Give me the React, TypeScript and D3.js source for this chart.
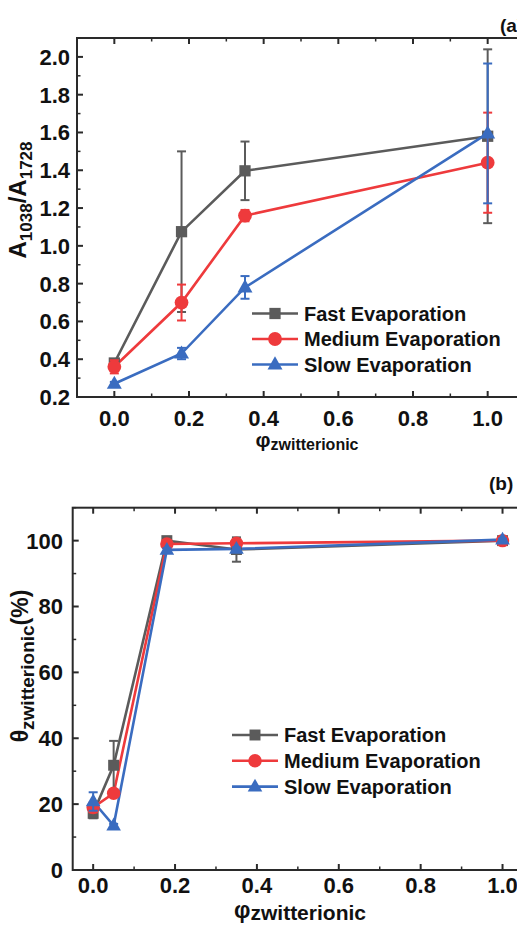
import React from "react";
import * as d3 from "d3";

const seriesNames = ["Fast Evaporation", "Medium Evaporation", "Slow Evaporation"];
const colors = ["#5b5b5b", "#ee3a3c", "#3a6cc0"];
const shapes = ["square", "circle", "triangle"];

// Panel (a)
const xA = [0, 0.18, 0.35, 1.0];
const fastA = [0.38, 1.075, 1.397, 1.58];
const fastAErr = [0.02, 0.425, 0.155, 0.46];
const medA = [0.36, 0.70, 1.16, 1.44];
const medAErr = [0.035, 0.095, 0.03, 0.265];
const slowA = [0.27, 0.43, 0.78, 1.595];
const slowAErr = [0.01, 0.03, 0.06, 0.37];

// Panel (b)
const xB = [0, 0.05, 0.18, 0.35, 1.0];
const fastB = [17.2, 31.8, 100, 97.3, 100];
const fastBErr = [1.5, 7.4, 0.5, 3.7, 0.3];
const medB = [19.0, 23.3, 99, 99.2, 100];
const medBErr = [1.5, 1.0, 0.5, 0.5, 0.3];
const slowB = [20.8, 13.5, 97.2, 97.5, 100.3];
const slowBErr = [2.8, 0.5, 0.5, 0.5, 0.3];

const xTickLabels = ["0.0", "0.2", "0.4", "0.6", "0.8", "1.0"];
const yTickLabelsA = ["0.2", "0.4", "0.6", "0.8", "1.0", "1.2", "1.4", "1.6", "1.8", "2.0"];
const yTickLabelsB = ["0", "20", "40", "60", "80", "100"];

const FONT = "'Liberation Sans', Arial, Helvetica, sans-serif";
const AX = "#2a2a2a";

function Marker({ shape, x, y, color, s }: any) {
  if (shape === "square") {
    return <rect x={x - s * 0.75} y={y - s * 0.75} width={s * 1.5} height={s * 1.5} fill={color} />;
  }
  if (shape === "circle") {
    return <circle cx={x} cy={y} r={s * 0.92} fill={color} />;
  }
  const h = s * 1.75;
  const w = s * 2.0;
  return (
    <path
      d={`M${x},${y - h * 0.62} L${x + w / 2},${y + h * 0.38} L${x - w / 2},${y + h * 0.38} Z`}
      fill={color}
    />
  );
}

function Panel({
  left, right, top, bottom, xDomain, yDomain, xs, ys, errs,
  xMajor, xMinor, yMajor, yMinor, yLabels, yLabelX, xLabelY, ms, legend,
}: any) {
  const x = d3.scaleLinear().domain(xDomain).range([left, right]);
  const y = d3.scaleLinear().domain(yDomain).range([bottom, top]);
  const line = d3.line<any>().x((d) => x(d[0])).y((d) => y(d[1]));
  const maj = 6, min = 3.5;
  return (
    <g>
      {ys.map((vals: number[], si: number) => (
        <g key={si}>
          <path d={line(xs.map((xv: number, i: number) => [xv, vals[i]])) || ""} fill="none" stroke={colors[si]} strokeWidth={2.6} />
        </g>
      ))}
      {ys.map((vals: number[], si: number) => (
        <g key={"e" + si}>
          {vals.map((v, i) => {
            const e = errs[si][i];
            const cx = x(xs[i]);
            return (
              <g key={i}>
                <line x1={cx} x2={cx} y1={y(v - e)} y2={y(v + e)} stroke={colors[si]} strokeWidth={2} />
                <line x1={cx - 4.5} x2={cx + 4.5} y1={y(v - e)} y2={y(v - e)} stroke={colors[si]} strokeWidth={2} />
                <line x1={cx - 4.5} x2={cx + 4.5} y1={y(v + e)} y2={y(v + e)} stroke={colors[si]} strokeWidth={2} />
              </g>
            );
          })}
          {vals.map((v, i) => (
            <Marker key={"m" + i} shape={shapes[si]} x={x(xs[i])} y={y(v)} color={colors[si]} s={ms} />
          ))}
        </g>
      ))}
      <rect x={left} y={top} width={right - left} height={bottom - top} fill="none" stroke={AX} strokeWidth={2} />
      {xMajor.map((t: number, i: number) => (
        <g key={"xm" + i}>
          <line x1={x(t)} x2={x(t)} y1={bottom} y2={bottom - maj} stroke={AX} strokeWidth={2} />
          <line x1={x(t)} x2={x(t)} y1={top} y2={top + maj} stroke={AX} strokeWidth={2} />
          <text x={x(t)} y={xLabelY} textAnchor="middle" fontSize={22} fontWeight="bold" fontFamily={FONT} fill="#111">
            {xTickLabels[i]}
          </text>
        </g>
      ))}
      {xMinor.map((t: number, i: number) => (
        <g key={"xn" + i}>
          <line x1={x(t)} x2={x(t)} y1={bottom} y2={bottom - min} stroke={AX} strokeWidth={1.5} />
          <line x1={x(t)} x2={x(t)} y1={top} y2={top + min} stroke={AX} strokeWidth={1.5} />
        </g>
      ))}
      {yMajor.map((t: number, i: number) => (
        <g key={"ym" + i}>
          <line x1={left} x2={left + maj} y1={y(t)} y2={y(t)} stroke={AX} strokeWidth={2} />
          <line x1={right} x2={right - maj} y1={y(t)} y2={y(t)} stroke={AX} strokeWidth={2} />
          <text x={yLabelX} y={y(t)} dy="0.36em" textAnchor="end" fontSize={22} fontWeight="bold" fontFamily={FONT} fill="#111">
            {yLabels[i]}
          </text>
        </g>
      ))}
      {yMinor.map((t: number, i: number) => (
        <g key={"yn" + i}>
          <line x1={left} x2={left + min} y1={y(t)} y2={y(t)} stroke={AX} strokeWidth={1.5} />
          <line x1={right} x2={right - min} y1={y(t)} y2={y(t)} stroke={AX} strokeWidth={1.5} />
        </g>
      ))}
      {seriesNames.map((n, i) => {
        const ly = legend.y + i * legend.dy;
        return (
          <g key={"l" + i}>
            <line x1={legend.x} x2={legend.x + 46} y1={ly} y2={ly} stroke={colors[i]} strokeWidth={2.6} />
            <Marker shape={shapes[i]} x={legend.x + 23} y={ly} color={colors[i]} s={ms} />
            <text x={legend.x + 52} y={ly} dy="0.36em" fontSize={20} fontWeight="bold" fontFamily={FONT} fill="#111">
              {n}
            </text>
          </g>
        );
      })}
    </g>
  );
}

export default function App() {
  const r01 = (a: number, b: number, s: number) => d3.range(a, b + s / 2, s).map((v) => Math.round(v * 1000) / 1000);
  const xMajor = r01(0, 1, 0.2);
  const xMinorA = r01(-0.1, 1.1, 0.2);
  const xMinorB = r01(0.1, 0.9, 0.2);
  return (
    <svg width={517} height={925} style={{ position: "absolute", left: 0, top: 0, background: "#fff" }}>
      <rect width={517} height={925} fill="#fff" />
      <Panel
        left={77} right={525} top={38} bottom={397}
        xDomain={[-0.1, 1.1]} yDomain={[0.2, 2.1]}
        xs={xA} ys={[fastA, medA, slowA]} errs={[fastAErr, medAErr, slowAErr]}
        xMajor={xMajor} xMinor={xMinorA}
        yMajor={r01(0.2, 2.0, 0.2)} yMinor={r01(0.3, 2.1, 0.2)} yLabels={yTickLabelsA}
        yLabelX={70} xLabelY={426} ms={7.5}
        legend={{ x: 252, y: 313.5, dy: 25.5 }}
      />
      <Panel
        left={72.7} right={523} top={507.7} bottom={870}
        xDomain={[-0.05, 1.05]} yDomain={[0, 110]}
        xs={xB} ys={[fastB, medB, slowB]} errs={[fastBErr, medBErr, slowBErr]}
        xMajor={xMajor} xMinor={xMinorB}
        yMajor={d3.range(0, 101, 20)} yMinor={d3.range(10, 111, 20)} yLabels={yTickLabelsB}
        yLabelX={63} xLabelY={893} ms={7.3}
        legend={{ x: 232, y: 735, dy: 25.8 }}
      />
      <text x={500} y={32} fontSize={19} fontWeight="bold" fontFamily={FONT} fill="#111">(a)</text>
      <text x={489} y={490} fontSize={19} fontWeight="bold" fontFamily={FONT} fill="#111">(b)</text>
      <text x={307} y={447} textAnchor="middle" fontWeight="bold" fontFamily={FONT} fill="#111">
        <tspan fontSize={21}>φ</tspan>
        <tspan fontSize={16} dy={3}>zwitterionic</tspan>
      </text>
      <text x={300} y={918} textAnchor="middle" fontWeight="bold" fontFamily={FONT} fill="#111">
        <tspan fontSize={23}>φ</tspan>
        <tspan fontSize={21} dy={2}>zwitterionic</tspan>
      </text>
      <text transform="translate(26,200) rotate(-90)" textAnchor="middle" fontWeight="bold" fontFamily={FONT} fill="#111">
        <tspan fontSize={24}>A</tspan>
        <tspan fontSize={17} dy={6}>1038</tspan>
        <tspan fontSize={24} dy={-6}>/A</tspan>
        <tspan fontSize={17} dy={6}>1728</tspan>
      </text>
      <text transform="translate(28,666) rotate(-90)" textAnchor="middle" fontWeight="bold" fontFamily={FONT} fill="#111">
        <tspan fontSize={23}>θ</tspan>
        <tspan fontSize={19} dy={6}>zwitterionic</tspan>
        <tspan fontSize={23} dy={-6}>(%)</tspan>
      </text>
    </svg>
  );
}
